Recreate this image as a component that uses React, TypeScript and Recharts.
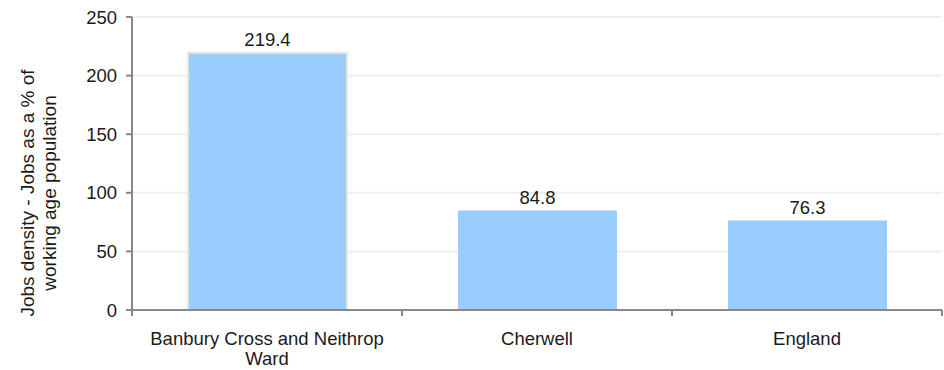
import React from "react";
import { BarChart, Bar, XAxis, YAxis, CartesianGrid, LabelList, Cell } from "recharts";

const categories = ["Banbury Cross and Neithrop Ward", "Cherwell", "England"];
const values = [219.4, 84.8, 76.3];
const yTicks = [0, 50, 100, 150, 200, 250];
const yTitleLines = ["Jobs density - Jobs as a % of", "working age population"];

const data = categories.map((name, i) => ({ name, value: values[i] }));

const FONT = "'Liberation Sans', Arial, sans-serif";
const FS = 18.5;
const AXIS = "#888888";
const X_TICK_SIZE = 6;
const X_TICK_MARGIN = 16;
const BAND = 270;
const WRAP_WIDTH = 250;

let ctx: CanvasRenderingContext2D | null = null;
function measure(s: string): number {
  if (!ctx) {
    const c = document.createElement("canvas");
    ctx = c.getContext("2d");
  }
  if (!ctx) return s.length * FS * 0.5;
  ctx.font = `${FS}px 'Liberation Sans', Arial, sans-serif`;
  return ctx.measureText(s).width;
}

function wrap(s: string, maxW: number): string[] {
  const words = s.split(" ");
  const lines: string[] = [];
  let cur = "";
  for (const w of words) {
    const trial = cur ? cur + " " + w : w;
    if (cur && measure(trial) > maxW) {
      lines.push(cur);
      cur = w;
    } else {
      cur = trial;
    }
  }
  if (cur) lines.push(cur);
  return lines;
}

function XTick(props: any) {
  const { x, y, payload, index, visibleTicksCount } = props;
  const n = visibleTicksCount || categories.length;
  const axisY = y - X_TICK_SIZE - X_TICK_MARGIN;
  const left = x - BAND / 2;
  const right = x + BAND / 2;
  const lines = wrap(String(payload.value), WRAP_WIDTH);
  return (
    <g>
      <line x1={left} x2={left} y1={axisY} y2={axisY + X_TICK_SIZE} stroke={AXIS} strokeWidth={2} />
      {index === n - 1 && (
        <line x1={right} x2={right} y1={axisY} y2={axisY + X_TICK_SIZE} stroke={AXIS} strokeWidth={2} />
      )}
      <text
        x={x}
        y={y}
        textAnchor="middle"
        style={{ fontFamily: FONT, fontSize: FS }}
        fill="#1a1a1a"
      >
        {lines.map((l, i) => (
          <tspan key={i} x={x} dy={i === 0 ? "0.71em" : 20}>
            {l}
          </tspan>
        ))}
      </text>
    </g>
  );
}

function YTitle(props: any) {
  const cx = 38;
  const cy = 193;
  return (
    <g transform={`translate(${cx},${cy}) rotate(-90)`}>
      {yTitleLines.map((t, i) => (
        <text
          key={i}
          x={0}
          y={(i - (yTitleLines.length - 1) / 2) * 22}
          dy="0.35em"
          textAnchor="middle"
          style={{ fontFamily: FONT, fontSize: 19 }}
          fill="#1a1a1a"
        >
          {t}
        </text>
      ))}
    </g>
  );
}

export default function App() {
  return (
    <div style={{ position: "absolute", left: 0, top: 0 }}>
      <BarChart
        width={944}
        height={370}
        data={data}
        margin={{ top: 17, right: 2, bottom: 0, left: 0 }}
        barSize={159}
      >
        <CartesianGrid vertical={false} stroke="#efefef" strokeWidth={2} />
        <XAxis
          dataKey="name"
          height={60}
          axisLine={{ stroke: AXIS, strokeWidth: 2 }}
          tickLine={false}
          tickSize={X_TICK_SIZE}
          tickMargin={X_TICK_MARGIN}
          interval={0}
          tick={<XTick />}
        />
        <YAxis
          width={132}
          domain={[0, 250]}
          ticks={yTicks}
          interval={0}
          axisLine={{ stroke: AXIS, strokeWidth: 2 }}
          tickLine={{ stroke: AXIS, strokeWidth: 2 }}
          tickSize={6}
          tickMargin={9}
          tick={{ fill: "#1a1a1a", fontFamily: FONT, fontSize: FS }}
          label={<YTitle />}
        />
        <Bar dataKey="value" fill="#99CCFF" isAnimationActive={false}>
          {data.map((d, i) => (
            <Cell key={i} fill="#99CCFF" stroke={i === 0 ? "#e8e5da" : "none"} strokeWidth={i === 0 ? 2 : 0} />
          ))}
          <LabelList
            dataKey="value"
            position="top"
            offset={7}
            style={{ fontFamily: FONT, fontSize: FS, fill: "#1a1a1a" }}
            formatter={(v: any) => Number(v).toFixed(1)}
          />
        </Bar>
      </BarChart>
    </div>
  );
}
